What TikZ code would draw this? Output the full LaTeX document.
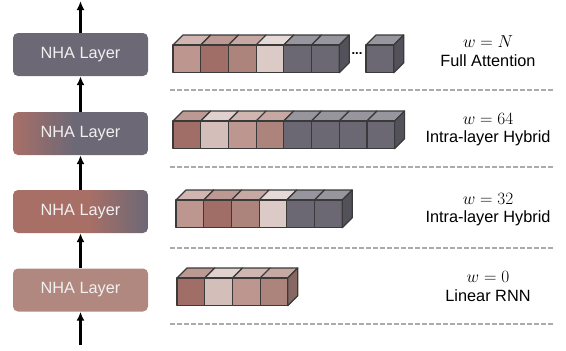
\documentclass[tikz,border=0pt]{standalone}
\usepackage{fontspec}
\setmainfont{Liberation Sans}
\usetikzlibrary{arrows.meta}
\definecolor{gbox}{HTML}{6C6876}
\definecolor{rbox}{HTML}{A86F67}
\definecolor{pbox}{HTML}{B0887F}
\definecolor{cg}{HTML}{6B6874}
\definecolor{cp1}{HTML}{BC968F}
\definecolor{cp2}{HTML}{A06E66}
\definecolor{cp3}{HTML}{AD847C}
\definecolor{cp4}{HTML}{DCCAC7}
\definecolor{cp5}{HTML}{D4BEB9}
\definecolor{edge}{HTML}{3A3A3A}
\definecolor{dashc}{HTML}{ABABAB}
\pgfdeclarehorizontalshading{mixA}{100bp}{color(0bp)=(rbox); color(25bp)=(rbox); color(48bp)=(gbox); color(100bp)=(gbox)}
\pgfdeclarehorizontalshading{mixB}{100bp}{color(0bp)=(rbox); color(53bp)=(rbox); color(75bp)=(gbox); color(100bp)=(gbox)}
\def\cs{27.7}
\def\dd{10}
\newcommand\cubeF[3]{%
  \filldraw[cubeface, fill=#3!70!white] (#1,#2) -- ++(\dd,-\dd) -- ++(\cs,0) -- ++(-\dd,\dd) -- cycle;
  \filldraw[cubeface, fill=#3] (#1,#2) rectangle ++(\cs,\cs);
}
\newcommand\cubeS[3]{%
  \filldraw[cubeface, fill=#3!78!black] (#1,#2) ++(\cs,0) -- ++(\dd,-\dd) -- ++(0,\cs) -- ++(-\dd,\dd) -- cycle;
}
\newcommand\cuberow[3]{%
  \foreach \c [count=\i from 0] in {#3} {
    \pgfmathsetmacro\xx{#1+\i*\cs}
    \cubeF{\xx}{#2}{\c}
  }
}
\tikzset{
  layer/.style={rounded corners=5pt, minimum width=135pt, minimum height=43pt,
    text=white!94!black, font=\fontsize{16.3}{19}\selectfont, inner sep=0pt},
  arr/.style={line width=2.5pt, -{Latex[length=9pt,width=8pt]}},
  cubeface/.style={draw=edge, line width=1.2pt, line join=round},
  sep/.style={draw=dashc, line width=1.2pt, dash pattern=on 5pt off 2pt},
  lab/.style={font=\fontsize{16.3}{19}\selectfont, inner sep=0pt, text=black}
}
\begin{document}
\begin{tikzpicture}[x=1pt, y=-1pt]
\useasboundingbox (0,0) rectangle (566,351);
% layers
\node[layer, fill=gbox] (l1) at (80.5,54.5) {NHA Layer};
\node[layer, shade, shading=mixA] (l2) at (80.5,133.5) {NHA Layer};
\node[layer, shade, shading=mixB] (l3) at (80.5,211.5) {NHA Layer};
\node[layer, fill=pbox] (l4) at (80.5,290) {NHA Layer};
\coordinate (topc) at (80.5,1);
\coordinate (botc) at (80.5,345);
\draw[arr] (botc) -- (l4.south);
\draw[arr] (l4.north) -- (l3.south);
\draw[arr] (l3.north) -- (l2.south);
\draw[arr] (l2.north) -- (l1.south);
\draw[arr] (l1.north) -- (topc);
% cube rows
\cuberow{173}{45}{cp1,cp2,cp3,cp4,cg,cg}
\cubeS{\fpeval{173+5*27.7}}{45}{cg}
\node[font=\fontsize{13}{13}\selectfont\bfseries, inner sep=0pt] (dots) at (357,54) {...};
\cuberow{366}{45}{cg}
\cubeS{366}{45}{cg}
\cuberow{173}{121}{cp2,cp5,cp1,cp3,cg,cg,cg,cg}
\cubeS{\fpeval{173+7*27.7}}{121}{cg}
\cuberow{176}{200}{cp1,cp2,cp3,cp4,cg,cg}
\cubeS{\fpeval{176+5*27.7}}{200}{cg}
\cuberow{177}{278}{cp2,cp5,cp1,cp3}
\cubeS{\fpeval{177+3*27.7}}{278}{cp3}
% separators
\draw[sep] (170,90) -- (553,90);
\draw[sep] (170,167) -- (553,167);
\draw[sep] (170,248) -- (553,248);
\draw[sep] (170,324) -- (553,324);
% labels
\node[lab] (w1) at (488,42) {$w = N$};
\node[lab] (t1) at (488,61) {Full Attention};
\node[lab] (w2) at (488,119) {$w = 64$};
\node[lab] (t2) at (488,138) {Intra-layer Hybrid};
\node[lab] (w3) at (488,199) {$w = 32$};
\node[lab] (t3) at (488,218) {Intra-layer Hybrid};
\node[lab] (w4) at (488,277) {$w = 0$};
\node[lab] (t4) at (488,296) {Linear RNN};
\end{tikzpicture}
\end{document}
